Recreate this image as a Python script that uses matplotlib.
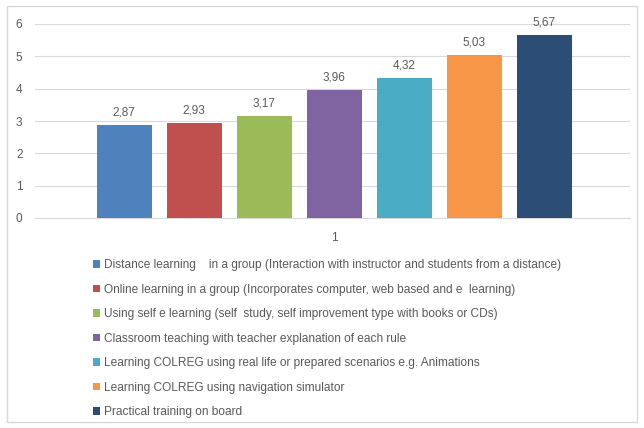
import numpy as np
import matplotlib
matplotlib.use('Agg')
import matplotlib.pyplot as plt
from matplotlib.patches import Rectangle

plt.rcParams['font.family'] = ['Liberation Sans', 'DejaVu Sans']

methods = [
    'Distance learning    in a group (Interaction with instructor and students from a distance)',
    'Online learning in a group (Incorporates computer, web based and e  learning)',
    'Using self e learning (self  study, self improvement type with books or CDs)',
    'Classroom teaching with teacher explanation of each rule',
    'Learning COLREG using real life or prepared scenarios e.g. Animations',
    'Learning COLREG using navigation simulator',
    'Practical training on board',
]
scores = [2.87, 2.93, 3.17, 3.96, 4.32, 5.03, 5.67]
colors = ['#4F81BD', '#C0504D', '#9BBB59', '#8064A2', '#4BACC6', '#F79646', '#2C4D75']
category = 1

txt = '#595959'
fig = plt.figure(figsize=(6.44, 4.28), dpi=100)
ax = fig.add_axes([35/644, 1-218/428, 595/644, 194/428])

step = 70/595
width = 55/595
offsets = (np.arange(len(scores)) - (len(scores)-1)/2) * step
for off, v, c, lab in zip(offsets, scores, colors, methods):
    ax.bar(category + off, v, width=width, color=c, label=lab, zorder=3)
    ax.text(category + off, v + 0.2, f'{v:.2f}'.replace('.', ','), ha='center', va='bottom',
            fontsize=8.5, color=txt)

ax.set_xlim(category - 0.503, category + 0.497)
ax.set_ylim(0, 6)
ax.set_yticks(range(0, 7))
ax.set_xticks([category])
ax.grid(axis='y', color='#D9D9D9', lw=0.8, zorder=0)
for s in ['top', 'right', 'left']:
    ax.spines[s].set_visible(False)
ax.spines['bottom'].set_color('#D9D9D9')
ax.tick_params(length=0, colors=txt, labelsize=8.5)
ax.tick_params(axis='y', pad=9)
ax.tick_params(axis='x', pad=10)

fig.legend(loc='upper left', bbox_to_anchor=(93/644, 1-259/428), frameon=False,
           fontsize=8.6, labelcolor=txt, handlelength=0.6, handleheight=0.6,
           handletextpad=0.3, labelspacing=1.05, borderpad=0, borderaxespad=0)

fig.add_artist(Rectangle((7/644, 1-422/428), 630/644, 416/428, transform=fig.transFigure,
                         fill=False, edgecolor='#D9D9D9', lw=1))

fig.savefig('out.png', dpi=100)
